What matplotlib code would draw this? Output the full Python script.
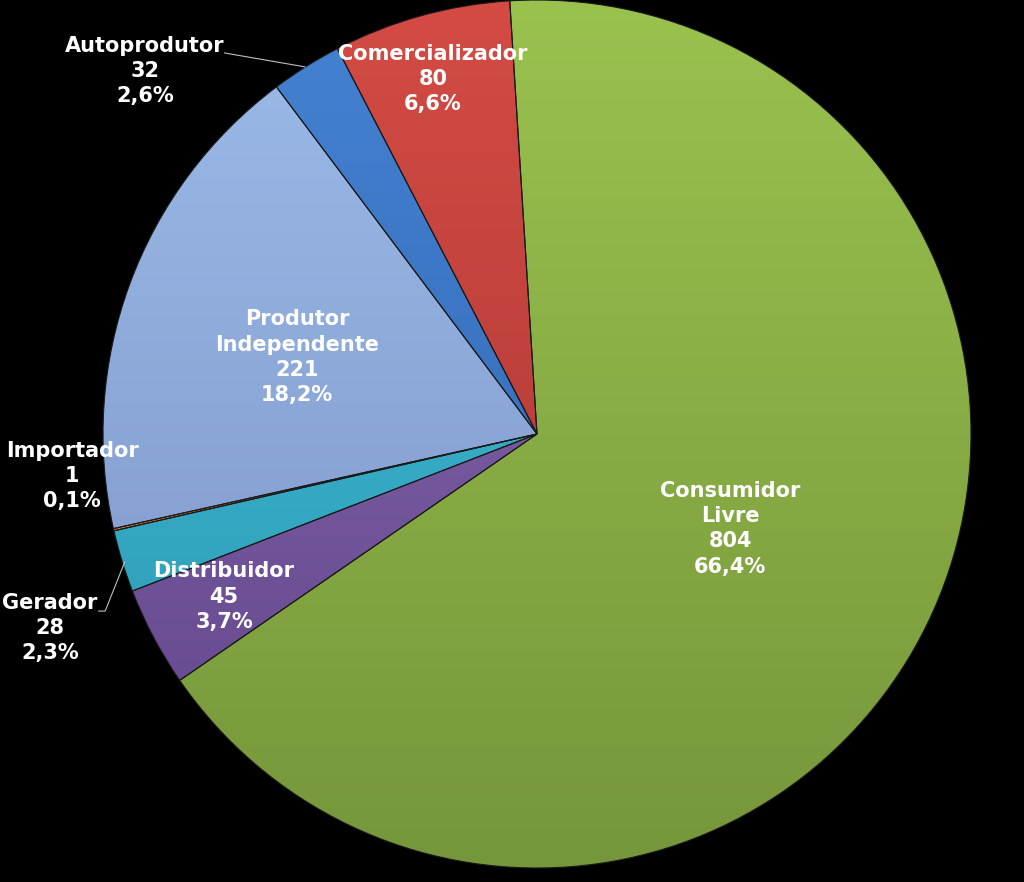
import numpy as np
import matplotlib.pyplot as plt
from matplotlib.colors import to_rgb

categories = ['Consumidor\nLivre', 'Distribuidor', 'Gerador', 'Importador',
              'Produtor\nIndependente', 'Autoprodutor', 'Comercializador']
values = [804, 45, 28, 1, 221, 32, 80]
top_colors = ['#9ac24e', '#8a6cb0', '#45c0da', '#f79646', '#9cbbe9', '#4482d2', '#d44b44']
bot_colors = ['#76963b', '#60448a', '#2896b0', '#d0702a', '#7a92c4', '#2e62ac', '#a53431']

# label anchor points (data coords, pie radius = 1)
label_xy = [(0.445, -0.218), (-0.721, -0.375), (-1.122, -0.447), (-1.071, -0.097),
            (-0.553, 0.177), (-0.903, 0.836), (-0.240, 0.818)]

total = sum(values)

fig = plt.figure(figsize=(10.24, 8.82), dpi=100, facecolor='black')
ax = fig.add_axes([0, 0, 1, 1])
ax.set_facecolor('black')

wedges, _ = ax.pie(values, startangle=93.6, counterclock=False, radius=1,
                   wedgeprops=dict(edgecolor='#1a1a1a', linewidth=0.8))

# vertical gradient fill for each wedge
ys = np.linspace(0, 1, 256)[:, None]
for w, ct, cb in zip(wedges, top_colors, bot_colors):
    ct, cb = np.array(to_rgb(ct)), np.array(to_rgb(cb))
    grad = cb[None, None, :] * (1 - ys[:, :, None]) + ct[None, None, :] * ys[:, :, None]
    im = ax.imshow(grad, extent=(-1, 1, -1, 1), origin='lower', aspect='auto',
                   zorder=w.get_zorder() - 0.01, interpolation='bilinear')
    im.set_clip_path(w)
    w.set_facecolor('none')

for lab, v, (x, y) in zip(categories, values, label_xy):
    pct = f'{100 * v / total:.1f}'.replace('.', ',')
    ax.text(x, y, f'{lab}\n{v}\n{pct}%', ha='center', va='center', color='white',
            fontsize=15, fontweight='bold', family='DejaVu Sans', linespacing=1.33,
            zorder=5)

# leader lines
ax.plot([-0.72, -0.535], [0.878, 0.846], color='#bfbfbf', lw=0.8, zorder=4)
ax.plot([-1.01, -0.995, -0.95], [-0.408, -0.408, -0.295], color='#bfbfbf', lw=0.8, zorder=4)

ax.set_xlim(-537 / 434, (1024 - 537) / 434)
ax.set_ylim((434 - 882) / 434, 1.0)
ax.set_aspect('auto')
ax.axis('off')

fig.savefig('out.png', dpi=100, facecolor='black')
